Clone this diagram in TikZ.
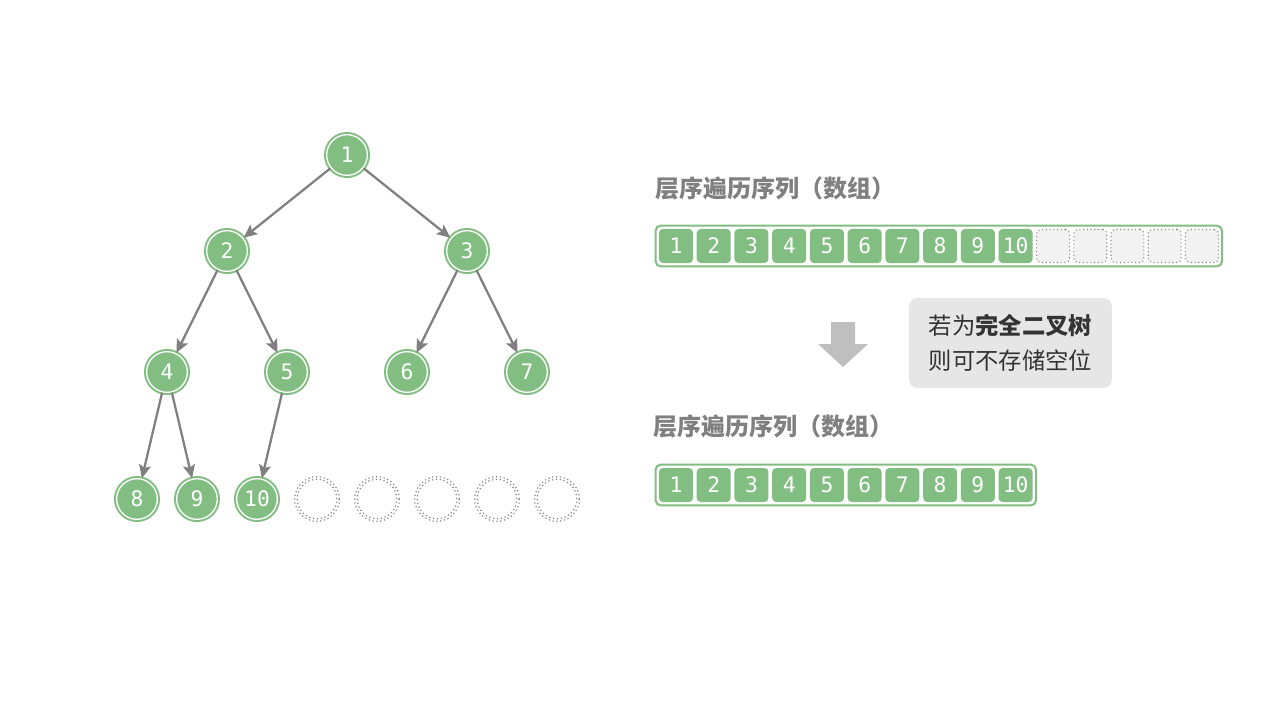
\documentclass[tikz,border=0pt]{standalone}
\usepackage{fontspec}
\setmonofont{DejaVu Sans Mono}
\newfontfamily\cjk{Noto Sans CJK SC}
\usetikzlibrary{positioning, arrows.meta, fit}

\definecolor{tgreen}{RGB}{130,189,130}
\definecolor{tgray}{RGB}{128,128,128}
\definecolor{dotgray}{RGB}{130,130,130}
\definecolor{cellgray}{RGB}{242,242,242}
\definecolor{boxgray}{RGB}{230,230,230}
\definecolor{arrowgray}{RGB}{191,191,191}
\definecolor{textdark}{RGB}{51,51,51}

\begin{document}
\begin{tikzpicture}[x=0.75pt, y=-0.75pt,
    treenode/.style={circle, fill=tgreen, draw=tgreen, double=white, line width=1.5pt, double distance=1pt, minimum size=30.5pt, inner sep=0pt, text=white, font=\ttfamily\fontsize{16}{16}\selectfont},
    emptynode/.style={circle, draw=dotgray, dotted, line width=0.9pt, minimum size=33.5pt, inner sep=0pt},
    emptyring/.style={draw=dotgray, dotted, line width=0.9pt},
    treearrow/.style={draw=tgray, line width=1.7pt, -{Stealth[length=10pt, width=9pt, inset=2pt]}},
    cell/.style={rectangle, rounded corners=3pt, fill=tgreen, minimum size=25.5pt, inner sep=0pt, text=white, font=\ttfamily\fontsize{16}{16}\selectfont},
    emptycell/.style={rectangle, rounded corners=3pt, fill=cellgray, draw=dotgray, dotted, line width=0.8pt, minimum size=24.7pt, inner sep=0pt},
    arraybox/.style={draw=tgreen, line width=1.5pt, rounded corners=4pt, inner sep=2.4pt},
    title/.style={anchor=west, text=tgray, font=\cjk\bfseries\fontsize{18}{18}\selectfont},
    notebox/.style={fill=boxgray, rounded corners=6pt, minimum width=152pt, minimum height=67.5pt, align=center, text=textdark, font=\cjk\fontsize{17.5}{26}\selectfont}
]
\useasboundingbox (0,0) rectangle (1280,720);

% Tree nodes
\node[treenode] (n1) at (347,155) {1};
\node[treenode] (n2) at (227,251) {2};
\node[treenode] (n3) at (467,251) {3};
\node[treenode] (n4) at (167,372) {4};
\node[treenode] (n5) at (287,372) {5};
\node[treenode] (n6) at (407,372) {6};
\node[treenode] (n7) at (527,372) {7};
\node[treenode] (n8) at (137,499) {8};
\node[treenode] (n9) at (197,499) {9};
\node[treenode] (n10) at (257,499) {10};

% Empty slots
\node[emptynode] (e1) at (317,499) {};
\node[emptynode] (e2) at (377,499) {};
\node[emptynode] (e3) at (437,499) {};
\node[emptynode] (e4) at (497,499) {};
\node[emptynode] (e5) at (557,499) {};
\draw[emptyring] (e1.center) circle (14.8pt);
\draw[emptyring] (e2.center) circle (14.8pt);
\draw[emptyring] (e3.center) circle (14.8pt);
\draw[emptyring] (e4.center) circle (14.8pt);
\draw[emptyring] (e5.center) circle (14.8pt);

% Tree arrows
\draw[treearrow] (n1) -- (n2);
\draw[treearrow] (n1) -- (n3);
\draw[treearrow] (n2) -- (n4);
\draw[treearrow] (n2) -- (n5);
\draw[treearrow] (n3) -- (n6);
\draw[treearrow] (n3) -- (n7);
\draw[treearrow] (n4) -- (n8);
\draw[treearrow] (n4) -- (n9);
\draw[treearrow] (n5) -- (n10);

% Array with empty slots
\node[title] (title1) at (651,188) {层序遍历序列（数组）};
\node[cell] (a1) at (676,246) {1};
\node[cell, right=2.4pt of a1] (a2) {2};
\node[cell, right=2.4pt of a2] (a3) {3};
\node[cell, right=2.4pt of a3] (a4) {4};
\node[cell, right=2.4pt of a4] (a5) {5};
\node[cell, right=2.4pt of a5] (a6) {6};
\node[cell, right=2.4pt of a6] (a7) {7};
\node[cell, right=2.4pt of a7] (a8) {8};
\node[cell, right=2.4pt of a8] (a9) {9};
\node[cell, right=2.4pt of a9] (a10) {10};
\node[emptycell, right=2.4pt of a10] (a11) {};
\node[emptycell, right=2.4pt of a11] (a12) {};
\node[emptycell, right=2.4pt of a12] (a13) {};
\node[emptycell, right=2.4pt of a13] (a14) {};
\node[emptycell, right=2.4pt of a14] (a15) {};
\node[arraybox, fit=(a1)(a15)] (arr1) {};

% Down arrow and note
\fill[arrowgray] (831,322) -- (855,322) -- (855,344) -- (868,344) -- (843,367) -- (818,344) -- (831,344) -- cycle;
\node[notebox] (note) at (1010.5,343) {若为\textbf{完全二叉树}\\则可不存储空位};

% Compact array
\node[title] (title2) at (649,426) {层序遍历序列（数组）};
\node[cell] (b1) at (676,485) {1};
\node[cell, right=2.4pt of b1] (b2) {2};
\node[cell, right=2.4pt of b2] (b3) {3};
\node[cell, right=2.4pt of b3] (b4) {4};
\node[cell, right=2.4pt of b4] (b5) {5};
\node[cell, right=2.4pt of b5] (b6) {6};
\node[cell, right=2.4pt of b6] (b7) {7};
\node[cell, right=2.4pt of b7] (b8) {8};
\node[cell, right=2.4pt of b8] (b9) {9};
\node[cell, right=2.4pt of b9] (b10) {10};
\node[arraybox, fit=(b1)(b10)] (arr2) {};

\end{tikzpicture}
\end{document}
